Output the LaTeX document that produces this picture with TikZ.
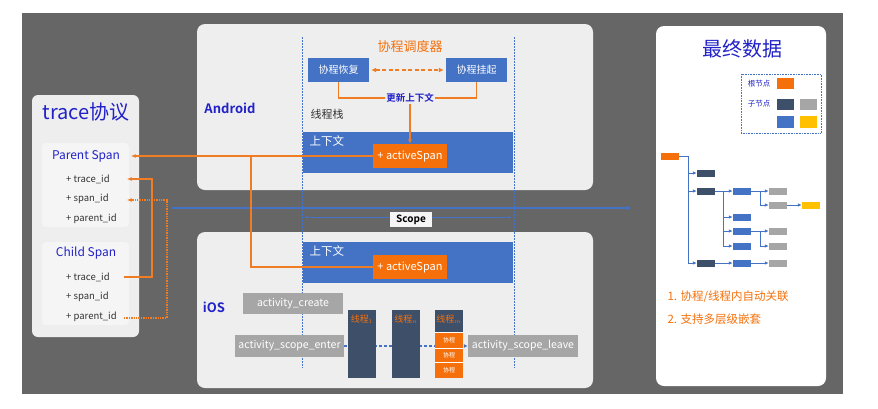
\documentclass[tikz,border=0pt]{standalone}
\usepackage{fontspec}
\setmainfont{Noto Sans CJK SC}[BoldFont={Noto Sans CJK SC Bold}]
\usetikzlibrary{arrows.meta}
\definecolor{bgc}{HTML}{666666}
\definecolor{panel}{HTML}{EEEEEE}
\definecolor{inner}{HTML}{F5F5F5}
\definecolor{bl}{HTML}{4472C4}
\definecolor{orl}{HTML}{F07D24}
\definecolor{orb}{HTML}{F5700A}
\definecolor{dk}{HTML}{3E4F6A}
\definecolor{gy}{HTML}{A6A6A6}
\definecolor{yl}{HTML}{FFC000}
\definecolor{tb}{HTML}{2222C8}
\definecolor{tx}{HTML}{333333}
\newcommand{\fsz}[1]{\fontsize{#1}{#1}\selectfont}
\begin{document}
\begin{tikzpicture}[x=1pt,y=-1pt,
  item/.style={text=tx, font=\fsz{9.5}, anchor=west, inner sep=0pt},
  bbox/.style={fill=bl, text=white, inner sep=0pt},
  obox/.style={fill=orb, text=white, inner sep=0pt},
  gbox/.style={fill=gy, text=white, inner sep=0pt, font=\fsz{10.5}},
  dbox/.style={fill=dk, inner sep=0pt},
  oline/.style={orl, line width=1.4pt},
  otip/.style={-{Latex[length=4.5pt,width=4pt]}},
  tn/.style={minimum width=18pt, minimum height=7pt, inner sep=0pt},
  tline/.style={bl, line width=0.9pt},
  tarr/.style={bl, line width=0.9pt, -{Latex[length=4pt,width=3.5pt]}}
]
\useasboundingbox (0,0) rectangle (878,408);
\fill[white] (0,0) rectangle (878,408);
\fill[bgc] (22,13) rectangle (843,394);

% ---------- left panel ----------
\fill[panel, rounded corners=6pt] (32,95) rectangle (139,337);
\fill[inner, rounded corners=4pt] (42,143) rectangle (129,227);
\fill[inner, rounded corners=4pt] (42,242) rectangle (129,325);
\node[text=tb, font=\fsz{20}] (tt) at (86,112) {trace协议};
\node[text=tb, font=\fsz{12}] (ps) at (86,156) {Parent Span};
\node[item] (ptr) at (66,179) {+ trace\_id};
\node[item] (psp) at (66,199) {+ span\_id};
\node[item] (ppa) at (66,219) {+ parent\_id};
\node[text=tb, font=\fsz{12}] (cs) at (86,253) {Child Span};
\node[item] (ctr) at (66,277) {+ trace\_id};
\node[item] (csp) at (66,297) {+ span\_id};
\node[item] (cpa) at (66,317) {+ parent\_id};

% ---------- panels ----------
\fill[panel, rounded corners=8pt] (197,24) rectangle (593,190);
\fill[panel, rounded corners=8pt] (197,232) rectangle (593,388);
\fill[white, rounded corners=8pt] (656,26) rectangle (826,386);

% long blue line and scope
\draw[bl, line width=1.8pt, -{Circle[length=4pt]}] (172,208) -- (630,208);
\draw[bl, line width=0.5pt, {Latex[length=3pt]}-{Latex[length=3pt]}] (304,217) -- (512,217);
\node[fill=inner, text=black, font=\bfseries\fsz{10}, minimum width=42pt, minimum height=15pt, inner sep=0pt] (scope) at (411,219.5) {Scope};

% vertical dotted lines
\draw[bl, line width=0.6pt, dash pattern=on 1.5pt off 1.5pt] (302,37) -- (302,368);
\draw[bl, line width=0.6pt, dash pattern=on 1.5pt off 1.5pt] (514,37) -- (514,368);

% ---------- Android ----------
\node[text=tb, font=\bfseries\fsz{13}] (andr) at (230,108) {Android};
\node[text=orb, font=\fsz{13}] (sched) at (410,47) {协程调度器};
\node[bbox, minimum width=61pt, minimum height=24pt, font=\fsz{10}] (resume) at (338.5,70) {协程恢复};
\node[bbox, minimum width=61pt, minimum height=24pt, font=\fsz{10}] (suspend) at (476.5,70) {协程挂起};
\node[text=tb, font=\bfseries\fsz{9.5}, inner sep=1pt] (upd) at (410,98) {更新上下文};
\node[text=tx, font=\fsz{11}] (stack) at (327,114) {线程栈};
\node[bbox, minimum width=210pt, minimum height=41pt] (ctxA) at (408,152.5) {};
\node[text=white, font=\fsz{11.5}, anchor=west] (ctxAl) at (306,141) {上下文};
\node[obox, minimum width=74pt, minimum height=24pt, font=\fsz{11}] (spanA) at (410,156) {+ activeSpan};

\draw[oline, dash pattern=on 4pt off 2.5pt, {Latex[length=5pt,width=5pt]}-{Latex[length=5pt,width=5pt]}] ([xshift=2pt]resume.east) -- ([xshift=-2pt]suspend.west);
\draw[oline] (resume.south) |- (upd.west);
\draw[oline] (suspend.south) |- (upd.east);
\draw[oline, otip] (upd.south) -- (spanA.north);

% ---------- iOS ----------
\node[text=tb, font=\bfseries\fsz{13}] (ios) at (214,307) {iOS};
\node[bbox, minimum width=210pt, minimum height=41pt] (ctxI) at (408,262.5) {};
\node[text=white, font=\fsz{11.5}, anchor=west] (ctxIl) at (306,251) {上下文};
\node[obox, minimum width=74pt, minimum height=24pt, font=\fsz{11}] (spanI) at (410,267) {+ activeSpan};

\node[gbox, minimum width=100pt, minimum height=21pt] (create) at (293,303.5) {activity\_create};
\node[gbox, minimum width=109pt, minimum height=22pt] (enter) at (289.5,346) {activity\_scope\_enter};
\node[gbox, minimum width=110pt, minimum height=22pt] (leave) at (523,346) {activity\_scope\_leave};
\draw[bl, line width=1.2pt, dash pattern=on 3pt off 2pt, -{Latex[length=4pt,width=4pt]}] (enter.east) -- (leave.west);
\node[dbox, minimum width=28pt, minimum height=68pt] (th1) at (362,344) {};
\node[dbox, minimum width=28pt, minimum height=68pt] (thn) at (406,344) {};
\node[dbox, minimum width=28pt, minimum height=22pt] (thm) at (449,321) {};
\node[text=orb, font=\fsz{9}, inner sep=0pt] (th1l) at (362,319) {线程$_{1}$};
\node[text=orb, font=\fsz{9}, inner sep=0pt] (thnl) at (406,319) {线程$_{n}$};
\node[text=orb, font=\fsz{9}, inner sep=0pt] (thml) at (449,319) {线程$_{m}$};
\node[obox, minimum width=28pt, minimum height=15pt, font=\fsz{6}] (co1) at (449,340.5) {协程};
\node[obox, minimum width=28pt, minimum height=13pt, font=\fsz{6}] (co2) at (449,355.5) {协程};
\node[obox, minimum width=28pt, minimum height=15pt, font=\fsz{6}] (co3) at (449,370.5) {协程};
\draw[white, line width=0.8pt] (co1.south west) -- (co1.south east) (co2.south west) -- (co2.south east) (thm.south west) -- (thm.south east);

% ---------- orange connectors to trace ----------
\coordinate (psE) at (131,156);
\coordinate (jn) at (251,156);
\coordinate (ptrE) at (127,179);
\coordinate (pspE) at (127,200);
\coordinate (ctrE) at (124,277);
\coordinate (cpaE) at (124,318);
\draw[oline, otip] (spanA.west) -- (psE);
\draw[oline] (jn) |- (spanI.west);
\draw[oline, otip] (ctrE) -- (152,277) |- (ptrE);
\draw[oline, densely dotted, otip] (cpaE) -- (167,318) |- (pspE);

% ---------- right panel ----------
\node[text=tb, font=\fsz{20}] (fin) at (742,49) {最终数据};
\draw[bl, line width=0.6pt, densely dotted] (741,74) rectangle (821,133);
\node[text=tb, font=\fsz{7.5}] (lroot) at (759,84) {根节点};
\node[text=tb, font=\fsz{7.5}] (lchild) at (759,104) {子节点};
\fill[orb] (777,78) rectangle (794,89);
\fill[dk] (777,99) rectangle (794,110);
\fill[gy] (800,99) rectangle (817,110);
\fill[bl] (777,116) rectangle (794,128);
\fill[yl] (800,116) rectangle (817,128);

\node[tn, fill=orb] (root) at (670,156) {};
\node[tn, fill=dk] (d1) at (706,173) {};
\node[tn, fill=dk] (d2) at (706,191) {};
\node[tn, fill=dk] (d3) at (706,263) {};
\node[tn, fill=bl] (b1) at (742,191) {};
\node[tn, fill=bl] (b2) at (742,217) {};
\node[tn, fill=bl] (b3) at (742,231) {};
\node[tn, fill=bl] (b4) at (742,246) {};
\node[tn, fill=bl] (b5) at (742,263) {};
\node[tn, fill=gy] (g1) at (778,191) {};
\node[tn, fill=gy] (g2) at (778,205) {};
\node[tn, fill=gy] (g3) at (778,231) {};
\node[tn, fill=gy] (g4) at (778,246) {};
\node[tn, fill=gy] (g5) at (778,263) {};
\node[tn, fill=yl] (y1) at (811,205) {};
\coordinate (t1) at (688,0);
\coordinate (t2) at (723,0);
\coordinate (t3) at (760,0);
\draw[tline] (root.east) -| (d3.west -| t1);
\draw[tarr] (d1.west -| t1) -- (d1.west);
\draw[tarr] (d2.west -| t1) -- (d2.west);
\draw[tarr] (d3.west -| t1) -- (d3.west);
\draw[tline] (d2.east) -| (b4.west -| t2);
\draw[tarr] (b1.west -| t2) -- (b1.west);
\draw[tarr] (b2.west -| t2) -- (b2.west);
\draw[tarr] (b3.west -| t2) -- (b3.west);
\draw[tarr] (b4.west -| t2) -- (b4.west);
\draw[tline] (b1.east) -| (g2.west -| t3);
\draw[tarr] (g1.west -| t3) -- (g1.west);
\draw[tarr] (g2.west -| t3) -- (g2.west);
\draw[tarr] (g2.east) -- (y1.west);
\draw[tline] (b3.east) -| (g4.west -| t3);
\draw[tarr] (g3.west -| t3) -- (g3.west);
\draw[tarr] (g4.west -| t3) -- (g4.west);
\draw[tarr] (d3.east) -- (b5.west);
\draw[tarr] (b5.east) -- (g5.west);

\node[text=orb, font=\fsz{11.5}, anchor=west] (n1) at (664,297) {1. 协程/线程内自动关联};
\node[text=orb, font=\fsz{11.5}, anchor=west] (n2) at (664,319) {2. 支持多层级嵌套};
\end{tikzpicture}
\end{document}
